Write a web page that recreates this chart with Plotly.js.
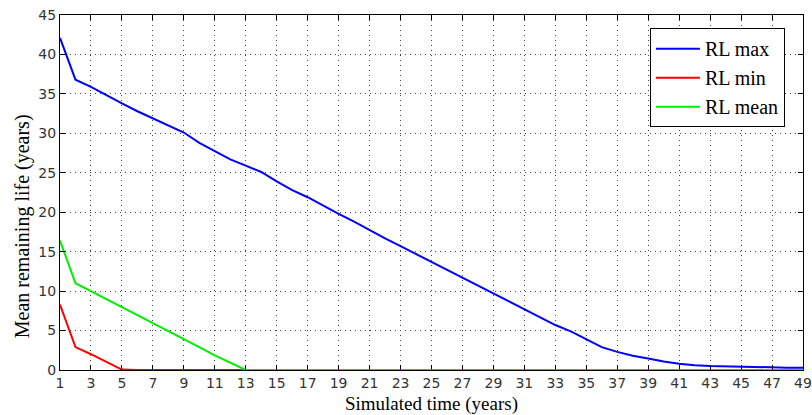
<!DOCTYPE html>
<html>
<head>
<meta charset="utf-8">
<script src="https://cdn.plot.ly/plotly-3.0.1.min.js"></script>
<style>
  html, body { margin: 0; padding: 0; background: #fff; }
  #chart { width: 812px; height: 415px; }
</style>
</head>
<body>
<div id="chart"></div>
<script>
// Simulated time, years 1..49
const years = [];
for (let t = 1; t <= 49; t++) years.push(t);

// Maximum remaining life per year
const rlMax = [42.1, 36.8, 35.9, 34.8, 33.8, 32.8, 31.9, 31.0, 30.1, 28.8,
               27.8, 26.7, 25.9, 25.1, 23.9, 22.8, 21.9, 20.8, 19.8, 18.8,
               17.7, 16.7, 15.7, 14.7, 13.7, 12.7, 11.8, 10.7, 9.7, 8.7,
               7.8, 6.8, 5.7, 4.9, 3.85, 2.9, 2.3, 1.8, 1.45, 1.07,
               0.8, 0.6, 0.5, 0.45, 0.4, 0.35, 0.3, 0.3, 0.3];

// Minimum remaining life per year
const rlMin = [8.3, 2.9, 2.0, 1.0, 0.05, 0, 0, 0, 0, 0,
               0, 0, 0, 0, 0, 0, 0, 0, 0, 0,
               0, 0, 0, 0, 0, 0, 0, 0, 0, 0,
               0, 0, 0, 0, 0, 0, 0, 0, 0, 0,
               0, 0, 0, 0, 0, 0, 0, 0, 0];

// Mean remaining life per year
const rlMean = [16.4, 11.0, 10.0, 9.0, 8.0, 7.0, 6.0, 4.9, 3.9, 2.9,
                1.85, 0.9, 0.0, 0, 0, 0, 0, 0, 0, 0,
                0, 0, 0, 0, 0, 0, 0, 0, 0, 0,
                0, 0, 0, 0, 0, 0, 0, 0, 0, 0,
                0, 0, 0, 0, 0, 0, 0, 0, 0];

const xTicks = [];
for (let t = 1; t <= 49; t += 2) xTicks.push(t);
const yTicks = [0, 5, 10, 15, 20, 25, 30, 35, 40, 45];

const seriesNames = ['RL max', 'RL min', 'RL mean'];
const seriesColors = ['#0000ff', '#ff0000', '#00ee00'];
const seriesData = [rlMax, rlMin, rlMean];

const traces = seriesData.map((ys, i) => ({
  x: years,
  y: ys,
  type: 'scatter',
  mode: 'lines',
  name: seriesNames[i],
  line: { color: seriesColors[i], width: 2 }
}));

const serif = '"Liberation Serif", "Times New Roman", serif';
const sans = '"DejaVu Sans", Verdana, sans-serif';

const axisCommon = {
  showline: true,
  linecolor: '#000',
  linewidth: 1,
  mirror: 'ticks',
  ticks: 'inside',
  ticklen: 5,
  tickcolor: '#000',
  showgrid: true,
  gridcolor: '#444',
  griddash: '1px,4px',
  gridwidth: 1,
  zeroline: false,
  ticklabeloverflow: 'allow',
  tickfont: { family: sans, size: 14, color: '#333' }
};

const layout = {
  width: 812,
  height: 415,
  margin: { l: 60, r: 9, t: 15, b: 45 },
  paper_bgcolor: '#fff',
  plot_bgcolor: '#fff',
  showlegend: true,
  legend: {
    x: 0.794, y: 0.963, xanchor: 'left', yanchor: 'top',
    bgcolor: '#fff',
    bordercolor: '#000',
    borderwidth: 1,
    itemwidth: 44,
    font: { family: serif, size: 20, color: '#000' },
    tracegroupgap: 0
  },
  xaxis: Object.assign({}, axisCommon, {
    range: [1, 49],
    tickmode: 'array',
    tickvals: xTicks,
    title: { text: 'Simulated time (years)', font: { family: serif, size: 19, color: '#000' }, standoff: 6 }
  }),
  yaxis: Object.assign({}, axisCommon, {
    range: [0, 45],
    tickmode: 'array',
    tickvals: yTicks
  }),
  // Vertical axis label, set slightly below the middle of the plot area
  annotations: [{
    text: 'Mean remaining life (years)',
    xref: 'paper', yref: 'paper',
    x: 0, y: 0.405,
    xanchor: 'center', yanchor: 'middle',
    xshift: -38,
    textangle: -90,
    showarrow: false,
    font: { family: serif, size: 20, color: '#000' }
  }]
};

Plotly.newPlot('chart', traces, layout, { displayModeBar: false, staticPlot: true });
</script>
</body>
</html>
